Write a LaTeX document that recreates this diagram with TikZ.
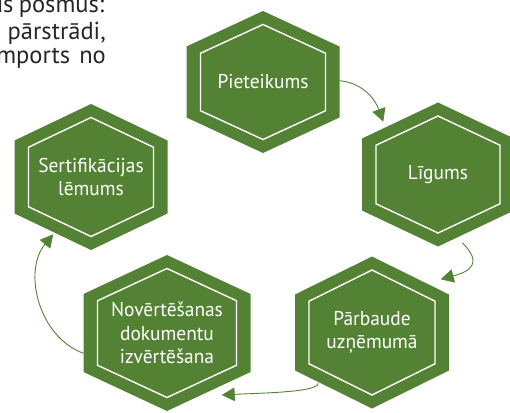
\documentclass[tikz,border=0pt]{standalone}
\usepackage{fontspec}
\newfontfamily\cellfont{PT Sans}[FakeStretch=0.97]
\newfontfamily\pagefont{PT Sans}
\usepackage{tikz}
\usetikzlibrary{calc,arrows.meta}
\definecolor{certgreen}{RGB}{84,130,53}
\definecolor{pagetext}{RGB}{38,38,38}
\tikzset{
	certification cycle/.style={
		x=1pt,y=1pt,
		hex cell/.style={fill=certgreen},
		hex rim/.style={draw=white,line width=1.4pt},
		cell text/.style={
			text=white,
			align=center,
			inner sep=0pt,
			font=\cellfont\fontsize{20}{23.3}\selectfont
		},
		flow/.style={
			draw=certgreen,
			line width=0.9pt,
			-{Triangle[length=13pt,width=13.5pt]}
		},
		page line/.style={
			anchor=base east,
			inner sep=0pt,
			text=pagetext,
			font=\pagefont\fontsize{24.5}{26}\selectfont
		}
	}
}
\begin{document}
\begin{tikzpicture}[certification cycle]
	\clip (0,0) rectangle (510,412);
	% cells: name/x/y/half width/half height/label
	\foreach \name/\cx/\cy/\hw/\hr/\label in {%
		piet/263/330/76.5/71/{Pieteikums},
		lig/438/237.5/76/72/{Līgums},
		par/372/79.5/77/76/{Pārbaude\\uzņēmumā},
		nov/167/79/83.5/78/{Novērtēšanas\\dokumentu\\izvērtēšana},
		sert/91/235/76.5/73/{Sertifikācijas\\lēmums}%
	}{
		\pgfmathsetmacro\iw{\hw-14}
		\pgfmathsetmacro\ir{\hr-13.5}
		\coordinate (\name) at (\cx,\cy);
		\fill[hex cell] (\name) +(0,\hr) -- +(\hw,\hr/2) -- +(\hw,-\hr/2)
			-- +(0,-\hr) -- +(-\hw,-\hr/2) -- +(-\hw,\hr/2) -- cycle;
		\draw[hex rim] (\name) +(0,\ir) -- +(\iw,\ir/2) -- +(\iw,-\ir/2)
			-- +(0,-\ir) -- +(-\iw,-\ir/2) -- +(-\iw,\ir/2) -- cycle;
		\node[cell text] (\name-text) at (\name) {\label};
	}
	% connector ends
	\coordinate (piet-out) at ($(piet)+(76.5,1.3)$);
	\coordinate (lig-in) at ($(lig)+(-54.7,52.8)$);
	\coordinate (lig-out) at ($(lig)+(24.3,-68.2)$);
	\coordinate (par-in) at ($(par)+(68.7,53.2)$);
	\coordinate (par-out) at ($(par)+(-53.7,-50.8)$);
	\coordinate (nov-in) at ($(nov)+(54.7,-62)$);
	\coordinate (nov-out) at ($(nov)+(-83.5,-20.3)$);
	\coordinate (sert-in) at ($(sert)+(-37.7,-57.3)$);
	\draw[flow] (piet-out) to[out=-5,in=110] (lig-in);
	\draw[flow] (lig-out) to[out=-45,in=15,looseness=1.8] (par-in);
	\draw[flow] (par-out) .. controls +(-1,-9) and +(40,2) .. (nov-in);
	\draw[flow] (nov-out) to[out=160,in=230] (sert-in);
	% text of the page
	\node[page line] (line-a) at (104.5,399.3) {us\hspace{5.5pt}posmus:};
	\node[page line] (line-b) at (106,372.7) {pārstrādi,};
	\node[page line] (line-c) at (106,348.7) {mports\hspace{9pt}no};
\end{tikzpicture}
\end{document}
